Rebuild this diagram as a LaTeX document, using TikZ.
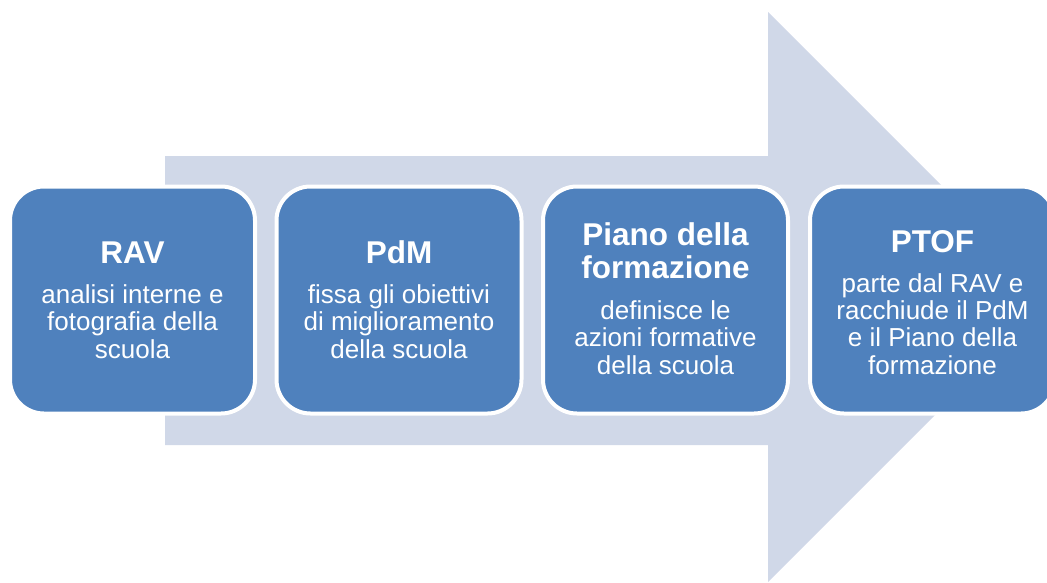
\documentclass[tikz,border=0pt]{standalone}
\usepackage{fontspec}
\setmainfont{Liberation Sans}
\usetikzlibrary{positioning}
\definecolor{arrowfill}{HTML}{D0D8E8}
\definecolor{boxfill}{HTML}{4F81BD}

\begin{document}
\begin{tikzpicture}[x=1pt,y=-1pt,
            stepbox/.style={draw=white,line width=4pt,fill=boxfill,rounded corners=34pt,
                            minimum width=245pt,minimum height=227pt,inner sep=0pt},
            boxtitle/.style={text=white,align=center,anchor=base,inner sep=0pt,
                             font=\bfseries\fontsize{31.5}{33}\selectfont},
            boxbody/.style={text=white,align=center,anchor=base,inner sep=0pt,
                            font=\fontsize{26}{27.3}\selectfont}
          ]
          \clip (0,0) rectangle (1047,582);

          %big arrow behind
          \fill[arrowfill] (165,156) -- (768,156) -- (768,12) -- (1053,297)
                -- (768,582) -- (768,445) -- (165,445) -- cycle;

          %boxes
          \node[stepbox] (rav) at (132.5,300) {};
          \node[stepbox] (pdm) at (399,300) {};
          \node[stepbox] (piano) at (665.5,300) {};
          \node[stepbox] (ptof) at (932.5,300) {};

          %titles
          \node[boxtitle] (rav-t) at (132.5,263) {RAV};
          \node[boxtitle] (pdm-t) at (399,263) {PdM};
          \node[boxtitle] (piano-t) at (665.5,278) {Piano della\\formazione};
          \node[boxtitle] (ptof-t) at (932.5,252) {PTOF};

          %texts (base = last line)
          \node[boxbody] (rav-b) at (132.5,358) {analisi interne e\\fotografia della\\scuola};
          \node[boxbody] (pdm-b) at (399,358) {fissa gli obiettivi\\di miglioramento\\della scuola};
          \node[boxbody] (piano-b) at (665.5,374) {definisce le\\azioni formative\\della scuola};
          \node[boxbody] (ptof-b) at (932.5,374) {parte dal RAV e\\racchiude il PdM\\e il Piano della\\formazione};

      \end{tikzpicture}
\end{document}
